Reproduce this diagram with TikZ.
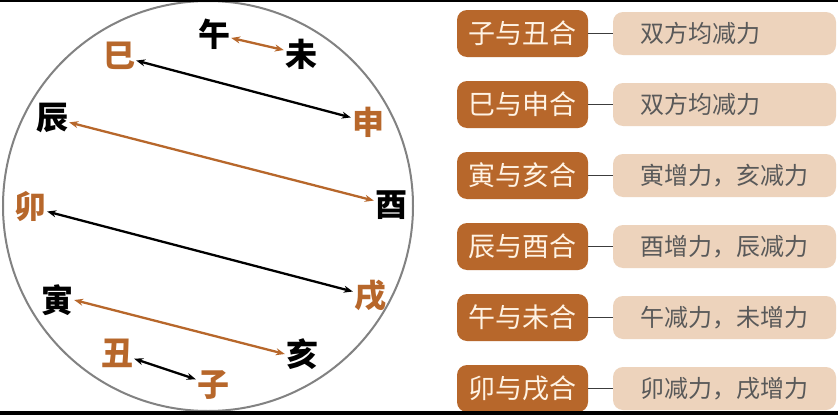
\documentclass[tikz,border=0pt]{standalone}
\usepackage{fontspec}
\newfontfamily\cjk{Noto Sans CJK SC}
\usetikzlibrary{arrows.meta}
\definecolor{ochre}{RGB}{183,103,43}
\definecolor{sand}{RGB}{237,211,188}
\definecolor{cream}{RGB}{255,243,228}
\definecolor{ink}{RGB}{60,60,60}
\definecolor{rim}{RGB}{130,130,130}
\begin{document}
\begin{tikzpicture}[x=1pt,y=-1pt,
        branch/.style={font=\cjk\bfseries\fontsize{32}{32}\selectfont,
            inner sep=1pt},
        pair/.style={<->,>={Stealth[length=9pt,width=7pt]},line width=2.3pt},
        he/.style={fill=ochre,rounded corners=10pt,minimum width=131pt,
            minimum height=47pt,inner sep=0pt,text=cream,
            font=\cjk\fontsize{27}{27}\selectfont},
        effect/.style={fill=sand,rounded corners=10pt,minimum height=43pt,
            inner xsep=27pt,inner ysep=0pt,text width=169pt,align=left,
            text=ink!85,font=\cjk\fontsize{24}{24}\selectfont}]
    \useasboundingbox (0,0) rectangle (838,415);
    \fill[white] (0,0) rectangle (838,415);

    % the twelve branches round the circle
    \draw[line width=2pt,color=rim] (208,206) circle[radius=205];
    \node[branch] (wu)   at (214,34)  {午};
    \node[branch] (wei)  at (301,54)  {未};
    \node[branch,ochre] (si)   at (119,56)  {巳};
    \node[branch,ochre] (shen) at (368,122) {申};
    \node[branch] (chen) at (52,118)  {辰};
    \node[branch] (you)  at (391,205) {酉};
    \node[branch,ochre] (mao)  at (30,207)  {卯};
    \node[branch,ochre] (xu)   at (370,296) {戌};
    \node[branch] (yin)  at (57,300)  {寅};
    \node[branch] (hai)  at (302,354) {亥};
    \node[branch,ochre] (chou) at (117,353) {丑};
    \node[branch,ochre] (zi)   at (213,385) {子};

    \draw[pair,ochre] (wu) -- (wei);
    \draw[pair] (si) -- (shen);
    \draw[pair,ochre] (chen) -- (you);
    \draw[pair] (mao) -- (xu);
    \draw[pair,ochre] (yin.east) -- (hai.west);
    \draw[pair] (chou) -- (zi);

    % the six combinations
    \foreach \y/\name/\res [count=\i] in {33.5/子与丑合/双方均减力,
            104.5/巳与申合/双方均减力,
            175.5/寅与亥合/寅增力，亥减力,
            246.5/辰与酉合/酉增力，辰减力,
            317.5/午与未合/午减力，未增力,
            388.5/卯与戌合/卯减力，戌增力} {
        \node[he] (he\i) at (522.5,\y) {\name};
        \node[effect] (res\i) at (724.5,\y) {\res};
        \draw[line width=1.5pt,color=ink] (he\i.east) -- (res\i.west);
    }

    \fill[black] (0,0) rectangle (838,2);
    \fill[black] (0,411) rectangle (838,415);
\end{tikzpicture}
\end{document}
